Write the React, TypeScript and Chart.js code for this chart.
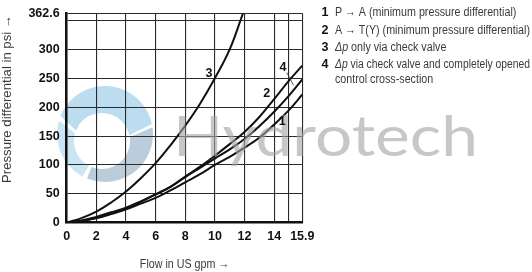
import React, { useEffect, useRef } from "react";
import { Chart, registerables } from "chart.js";
Chart.register(...registerables);

// ---- data ----
const flow = [0, 1, 2, 3, 4, 5, 6, 7, 8, 9, 10, 11, 12, 13, 14, 15, 15.9];
const curve1 = [0, 3, 8, 15, 23, 33, 43, 56, 70, 84, 100, 114, 130, 147, 170, 195, 222];
const curve2 = [0, 4, 10, 18, 26, 37, 49, 62, 79, 95, 111, 127, 145, 167, 192, 220, 248];
const curve4 = [0, 3, 8, 16, 24, 36, 49, 62, 80, 97, 116, 136, 157, 183, 214, 246, 272];
const flow3 = [0, 1, 2, 3, 4, 5, 6, 7, 8, 9, 10, 11, 11.9];
const curve3 = [0, 8, 19, 35, 54, 77, 103, 134, 168, 206, 250, 300, 362.6];

const xTicks = [0, 2, 4, 6, 8, 10, 12, 14, 15, 15.9];
const xTickLabels = ["0", "2", "4", "6", "8", "10", "12", "14", "", "15.9"];
const yTicks = [0, 50, 100, 150, 200, 250, 300, 350, 362.6];
const yTickLabels = ["0", "50", "100", "150", "200", "250", "300", "", "362.6"];

const curveLabels = ["1", "2", "3", "4"];
const curveLabelX = [14.55, 13.5, 9.6, 14.6];
const curveLabelY = [175, 223, 258, 268];
const leaderX = [14.85, 15.3];
const leaderY = [260, 238];

const legendNums = ["1", "2", "3", "4"];
const legendItalic = ["", "", "Δp", "Δp"];
const legendTexts = [
  "P → A (minimum pressure differential)",
  "A → T(Y) (minimum pressure differential)",
  " only via check valve",
  " via check valve and completely opened",
];
const legendExtra = "control cross-section";

const xTitle = "Flow in US gpm →";
const yTitle = "Pressure differential in psi →";
const watermark = "Hydrotech";

const FONT = '"Liberation Sans", Arial, sans-serif';

const pts = (xs: number[], ys: number[]) => xs.map((x, i) => ({ x, y: ys[i] }));

function squeezed(ctx: any, text: string, x: number, y: number, sx: number) {
  ctx.save();
  ctx.translate(x, y);
  ctx.scale(sx, 1);
  ctx.fillText(text, 0, 0);
  ctx.restore();
  return ctx.measureText(text).width * sx;
}

function sector(ctx: any, a1: number, a2: number, color: string) {
  const d = Math.PI / 180;
  ctx.beginPath();
  ctx.arc(105, 134, 48, a1 * d, a2 * d, false);
  ctx.arc(102, 141, 28, a2 * d, a1 * d, true);
  ctx.closePath();
  ctx.fillStyle = color;
  ctx.fill();
}

const decorPlugin = {
  id: "decor",
  beforeDraw(chart: any) {
    const ctx = chart.ctx;
    ctx.save();
    sector(ctx, -158, -12, "rgba(160,205,232,0.7)");
    sector(ctx, -8, 112, "rgba(150,178,200,0.65)");
    sector(ctx, 118, 196, "rgba(180,220,240,0.7)");
    ctx.restore();
  },
  afterDatasetsDraw(chart: any) {
    const ctx = chart.ctx;
    const xs = chart.scales.x;
    const ys = chart.scales.y;
    ctx.save();
    // watermark text
    ctx.font = '56px Lato, "Noto Sans", sans-serif';
    const w = ctx.measureText(watermark).width;
    ctx.fillStyle = "rgba(165,165,165,0.62)";
    ctx.textBaseline = "alphabetic";
    squeezed(ctx, watermark, 173, 156, 305 / w);

    // curve labels
    ctx.fillStyle = "#111";
    ctx.font = "bold 12.5px " + FONT;
    ctx.textAlign = "center";
    ctx.textBaseline = "middle";
    curveLabels.forEach((t, i) => {
      ctx.fillText(t, xs.getPixelForValue(curveLabelX[i]), ys.getPixelForValue(curveLabelY[i]));
    });
    ctx.strokeStyle = "#333";
    ctx.lineWidth = 0.8;
    ctx.beginPath();
    ctx.moveTo(xs.getPixelForValue(leaderX[0]), ys.getPixelForValue(leaderY[0]));
    ctx.lineTo(xs.getPixelForValue(leaderX[1]), ys.getPixelForValue(leaderY[1]));
    ctx.stroke();

    ctx.font = "12.5px " + FONT;
    const sx = 195 / ctx.measureText(legendTexts[1]).width;

    // axis titles
    ctx.fillStyle = "#3a3a3a";
    ctx.textAlign = "center";
    squeezed(ctx, xTitle, (chart.chartArea.left + chart.chartArea.right) / 2, 264.5, sx);
    ctx.save();
    ctx.translate(8, 99);
    ctx.rotate(-Math.PI / 2);
    squeezed(ctx, yTitle, 0, 0, 168 / ctx.measureText(yTitle).width);
    ctx.restore();

    // legend
    const rows = [13, 30.3, 47.7, 65];
    ctx.textAlign = "left";
    rows.forEach((y, i) => {
      ctx.font = "bold 12.5px " + FONT;
      ctx.fillStyle = "#111";
      ctx.fillText(legendNums[i], 321.5, y);
      ctx.fillStyle = "#3a3a3a";
      ctx.font = "italic 12.5px " + FONT;
      const wi = legendItalic[i] ? ctx.measureText(legendItalic[i]).width : 0;
      ctx.font = "12.5px " + FONT;
      const wt = ctx.measureText(legendTexts[i]).width;
      const rsx = Math.min(sx, 195 / (wi + wt));
      let x = 335;
      if (legendItalic[i]) {
        ctx.font = "italic 12.5px " + FONT;
        x += squeezed(ctx, legendItalic[i], x, y, rsx);
      }
      ctx.font = "12.5px " + FONT;
      squeezed(ctx, legendTexts[i], x, y, rsx);
    });
    squeezed(ctx, legendExtra, 335, 80, sx);
    ctx.restore();
  },
};

export default function App() {
  const ref = useRef<HTMLCanvasElement>(null);
  useEffect(() => {
    document.body.style.margin = "0";
    const lineDs = (data: any) => ({
      data,
      borderColor: "#111",
      borderWidth: 2,
      pointRadius: 0,
      fill: false,
      tension: 0.4,
    });
    const chart = new Chart(ref.current!, {
      type: "line",
      data: {
        datasets: [
          lineDs(pts(flow, curve1)),
          lineDs(pts(flow, curve2)),
          lineDs(pts(flow3, curve3)),
          lineDs(pts(flow, curve4)),
        ],
      },
      options: {
        animation: false,
        responsive: false,
        devicePixelRatio: 1,
        layout: { padding: { left: 0, top: 7, right: 229.7, bottom: 0 } },
        plugins: { legend: { display: false }, tooltip: { enabled: false } },
        scales: {
          x: {
            type: "linear",
            min: 0,
            max: 15.9,
            afterBuildTicks: (s: any) => {
              s.ticks = xTicks.map((v) => ({ value: v }));
            },
            afterFit: (s: any) => {
              s.height = 49.3;
            },
            ticks: {
              autoSkip: false,
              maxRotation: 0,
              padding: 8,
              color: "#111",
              font: { family: FONT, size: 12.5, weight: "bold", lineHeight: 1 },
              callback: (_v: any, i: number) => xTickLabels[i],
            },
            grid: { color: "#2a2a2a", lineWidth: 1.1, drawTicks: false },
            border: { display: true, color: "#111", width: 2.5 },
          },
          y: {
            type: "linear",
            min: 0,
            max: 362.6,
            afterBuildTicks: (s: any) => {
              s.ticks = yTicks.map((v) => ({ value: v }));
            },
            afterFit: (s: any) => {
              s.width = 66.7;
            },
            ticks: {
              autoSkip: false,
              padding: 7,
              color: "#111",
              font: { family: FONT, size: 12.5, weight: "bold", lineHeight: 1 },
              callback: (_v: any, i: number) => yTickLabels[i],
            },
            grid: { color: "#2a2a2a", lineWidth: 1.1, drawTicks: false },
            border: { display: true, color: "#111", width: 2.5 },
          },
        },
      },
      plugins: [decorPlugin],
    });
    return () => chart.destroy();
  }, []);
  return <canvas ref={ref} width={532} height={272} style={{ display: "block" }} />;
}
